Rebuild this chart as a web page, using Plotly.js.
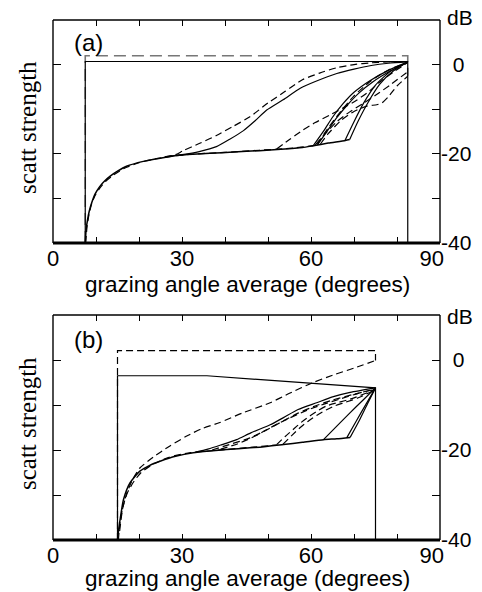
<!DOCTYPE html>
<html>
<head>
<meta charset="utf-8">
<script src="https://cdn.plot.ly/plotly-3.0.1.min.js"></script>
<style>html,body{margin:0;padding:0;background:#fff;}#chart{width:482px;height:592px;}</style>
</head>
<body>
<div id="chart"></div>
<script>
// ---------- tick labels ----------
const xTickVals = [0, 10, 20, 30, 40, 50, 60, 70, 80, 90];
const xTickText = ['0', '', '', '30', '', '', '60', '', '', '90\u2007\u2009'];
const yTickVals = [-40, -30, -20, -10, 0];
const yTickText = ['-40', '', '-20', '', '\u20070'];

// ---------- panel (a) ----------
const aFrameSolidX = [7.5, 7.5, 82.5, 82.5];
const aFrameSolidY = [-40, 0.7, 0.7, -40];
const aFrameDashX = [7.5, 7.5, 82.5, 82.5];
const aFrameDashY = [-40, 2.0, 2.0, -2.5];
const aBaseX = [7.5, 7.7, 8.0, 8.4, 9.0, 9.8, 10.9, 12.0, 13.3, 15, 17.1, 21, 24.9, 28.8, 32.5, 36.5, 42, 48, 53, 58, 60.5, 64, 68, 69];
const aBaseY = [-40, -37, -35, -33, -31, -29, -27.3, -26.1, -25, -23.9, -22.8, -21.7, -21, -20.4, -20.1, -19.9, -19.6, -19.3, -19, -18.6, -18.2, -17.6, -17, -16.8];
const aBaseDashX = [7.6, 7.9, 8.3, 8.9, 9.7, 10.8, 12.2, 14, 16.5, 20, 24, 28, 32, 40, 48, 55, 61];
const aBaseDashY = [-40, -36.5, -34, -31.5, -29.5, -27.8, -26.2, -24.8, -23.3, -22, -21.1, -20.5, -20.1, -19.7, -19.2, -18.8, -18.1];
const aS1X = [26, 30, 34, 38, 41, 44.3, 47, 49.7, 53.5, 57.5, 61, 66, 70, 74, 78, 82.5];
const aS1Y = [-20.7, -20.2, -19.5, -18.4, -16.8, -14.8, -12.6, -10.2, -7.9, -5.3, -3.8, -2, -1, -0.2, 0.3, 0.6];
const aD1X = [26, 28.5, 30.3, 34, 38, 42, 45.8, 50, 54, 58, 62, 66, 70, 74, 78, 82.5];
const aD1Y = [-20.7, -20.2, -19.3, -17.7, -15.9, -13.8, -11.7, -8.6, -6, -3.4, -1.9, -0.7, 0, 0.4, 0.6, 0.7];
const aS2aX = [60.5, 63, 65, 67.5, 70, 73.7, 78, 82.5];
const aS2aY = [-18.2, -14.8, -11.8, -8.7, -6.2, -3.6, -1.3, 0.6];
const aS2bX = [61.5, 64, 66, 68.5, 71, 74.5, 78.5, 82.5];
const aS2bY = [-18.0, -14.6, -11.9, -9.0, -6.5, -3.8, -1.4, 0.6];
const aS3aX = [67.9, 70, 72.2, 75, 78.5, 82.5];
const aS3aY = [-17.0, -12.8, -8.7, -4.6, -1.5, 0.6];
const aS3bX = [69, 71, 73.2, 76, 79.2, 82.5];
const aS3bY = [-16.8, -12.6, -8.6, -4.4, -1.4, 0.6];
const aD2X = [52, 55, 58.1, 61, 64.4, 67.5, 70.6, 73.5, 76, 79, 82.5];
const aD2Y = [-18.9, -16.8, -14.7, -13, -11.3, -9.7, -8, -6, -3.9, -1.8, 0.5];
const aD3X = [61, 63, 66, 69, 72, 75, 78.5, 82.5];
const aD3Y = [-18.0, -15.8, -12.8, -10.6, -8.8, -6.9, -4.5, -1.6];
const aD4X = [62.2, 64, 67, 70, 73, 75.3, 76.5, 78, 80, 82.5];
const aD4Y = [-17.8, -15.5, -12.5, -10.5, -9.3, -9.0, -8.6, -7.2, -4.8, -2.6];
const aD5X = [61.5, 64, 67, 70, 74, 78, 82.5];
const aD5Y = [-17.8, -14.2, -10.4, -7, -3.6, -1.2, 0.5];

// ---------- panel (b) ----------
const bFrameSolidX = [15, 15, 35.8, 75, 75];
const bFrameSolidY = [-40, -3.5, -3.5, -6.2, -40];
const bFrameDashX = [15, 15, 75, 75];
const bFrameDashY = [-40, 2.1, 2.1, -0.1];
const bBaseX = [15, 15.3, 15.6, 16.4, 17.9, 20.2, 22.5, 24.9, 28.5, 32.6, 36.5, 40.4, 45.8, 48.1, 53.6, 58, 62.9, 66, 69.1];
const bBaseY = [-40, -37.5, -35.5, -31, -27.3, -24.7, -23.4, -22.5, -21.4, -20.6, -20.2, -19.9, -19.5, -19.4, -18.8, -18.3, -17.7, -17.5, -17.2];
const bBaseDashX = [15.2, 15.6, 16.3, 17.3, 18.8, 20.5, 23, 27, 32, 40, 46, 52];
const bBaseDashY = [-40, -36, -32.5, -29.5, -27, -25, -23.3, -21.6, -20.6, -19.9, -19.4, -18.9];
const bS1X = [33, 36, 39, 42.7, 46, 50.5, 53.6, 57, 61.3, 65, 69.1, 75];
const bS1Y = [-20.5, -19.8, -18.9, -17.7, -16.2, -14.4, -12.8, -11, -9.5, -8.2, -7.2, -6.2];
const bS2X = [62.9, 66, 69, 72, 75];
const bS2Y = [-17.7, -14.7, -11.8, -9, -6.2];
const bS3aX = [68.3, 70.5, 72.8, 75];
const bS3aY = [-17.3, -13.6, -9.8, -6.2];
const bS3bX = [69.1, 71.2, 73.2, 75];
const bS3bY = [-17.2, -13.5, -9.6, -6.2];
const bDLongX = [15.5, 16.2, 17.2, 18.5, 20.2, 23.3, 27, 31.1, 34.5, 38.8, 44, 50.5, 55, 60.5, 65, 70, 75];
const bDLongY = [-38, -33, -29.5, -26.6, -24, -21.6, -19.2, -16.9, -15.3, -13.9, -11.8, -9.5, -7.4, -5, -3.4, -1.8, -0.1];
const bDA1X = [37, 41, 45.8, 50, 53.6, 57, 61.3, 65, 70, 75];
const bDA1Y = [-20, -18.8, -17.3, -15.4, -13.5, -11.8, -10.1, -8.9, -7.6, -6.5];
const bDA2X = [39, 43, 47, 51, 55, 59, 63, 67, 71, 75];
const bDA2Y = [-19.8, -18.6, -16.9, -14.8, -12.9, -11.2, -9.8, -8.6, -7.4, -6.4];
const bDB1X = [52, 54, 55.9, 57.8, 59.8, 61.7, 63.6, 66.5, 69.1, 73.3, 75];
const bDB1Y = [-18.8, -17, -15.4, -13.8, -12.4, -11.2, -10.2, -9.4, -8.7, -7.2, -6.4];
const bDB2X = [53.5, 55.5, 57.5, 59.5, 61.5, 63.5, 65.5, 68, 71, 75];
const bDB2Y = [-18.7, -16.8, -15, -13.5, -12.2, -11.1, -10.2, -9.4, -8.4, -6.6];

// ---------- styling ----------
const SOLID = 'solid';
const DASH = '7px,4px';
const GRAYDASH = '12px,6px';

function tr(x, y, dash, panel, opts) {
  opts = opts || {};
  return {
    type: 'scatter', mode: 'lines', x: x, y: y,
    xaxis: panel === 'a' ? 'x' : 'x2',
    yaxis: panel === 'a' ? 'y' : 'y2',
    hoverinfo: 'skip',
    line: {
      color: opts.color || '#000',
      width: opts.width || 1.2,
      dash: dash,
      shape: opts.linear ? 'linear' : 'spline',
      smoothing: 0.6
    }
  };
}

const traces = [
  tr(aFrameDashX, aFrameDashY, GRAYDASH, 'a', {linear: true, color: '#777', width: 1.6}),
  tr(aFrameSolidX, aFrameSolidY, SOLID, 'a', {linear: true}),
  tr(aBaseX, aBaseY, SOLID, 'a', {width: 1.5}),
  tr(aBaseDashX, aBaseDashY, DASH, 'a'),
  tr(aS1X, aS1Y, SOLID, 'a'),
  tr(aD1X, aD1Y, DASH, 'a'),
  tr(aS2aX, aS2aY, SOLID, 'a'),
  tr(aS2bX, aS2bY, SOLID, 'a'),
  tr(aS3aX, aS3aY, SOLID, 'a'),
  tr(aS3bX, aS3bY, SOLID, 'a'),
  tr(aD2X, aD2Y, DASH, 'a'),
  tr(aD3X, aD3Y, DASH, 'a'),
  tr(aD4X, aD4Y, DASH, 'a'),
  tr(aD5X, aD5Y, DASH, 'a'),

  tr(bFrameDashX, bFrameDashY, DASH, 'b', {linear: true}),
  tr(bFrameSolidX, bFrameSolidY, SOLID, 'b', {linear: true}),
  tr(bBaseX, bBaseY, SOLID, 'b', {width: 1.5}),
  tr(bBaseDashX, bBaseDashY, DASH, 'b'),
  tr(bS1X, bS1Y, SOLID, 'b'),
  tr(bS2X, bS2Y, SOLID, 'b'),
  tr(bS3aX, bS3aY, SOLID, 'b'),
  tr(bS3bX, bS3bY, SOLID, 'b'),
  tr(bDLongX, bDLongY, DASH, 'b'),
  tr(bDA1X, bDA1Y, DASH, 'b'),
  tr(bDA2X, bDA2Y, DASH, 'b'),
  tr(bDB1X, bDB1Y, DASH, 'b'),
  tr(bDB2X, bDB2Y, DASH, 'b')
];

const W = 482, H = 592;
const xDom = [53 / W, 440 / W];
const aDom = [(H - 243) / H, (H - 20) / H];
const bDom = [(H - 540) / H, (H - 315) / H];
const sans = 'Liberation Sans, Arial, Helvetica, sans-serif';
const serif = 'Liberation Serif, Times New Roman, serif';

function xAx(anchor, dom) {
  return {
    domain: dom, anchor: anchor, range: [0, 90], fixedrange: true,
    tickmode: 'array', tickvals: xTickVals, ticktext: xTickText,
    ticks: 'inside', ticklen: 6, tickwidth: 1, tickcolor: '#000', mirror: 'ticks',
    showline: false, showgrid: false, zeroline: false,
    tickfont: {family: sans, size: 22, color: '#000'}
  };
}
function yAx(anchor, dom) {
  return {
    domain: dom, anchor: anchor, side: 'right', range: [-40, 10], fixedrange: true,
    tickmode: 'array', tickvals: yTickVals, ticktext: yTickText,
    ticks: 'inside', ticklen: 8, tickwidth: 1, tickcolor: '#000', mirror: 'ticks',
    showline: false, showgrid: false, zeroline: false,
    tickfont: {family: sans, size: 21, color: '#000'}
  };
}

function frame(xr, yr) {
  const base = {type: 'line', xref: xr + ' domain', yref: yr + ' domain', layer: 'above'};
  return [
    Object.assign({}, base, {x0: 0, x1: 0, y0: 0, y1: 1, line: {color: '#000', width: 1.4}}),
    Object.assign({}, base, {x0: 0, x1: 1, y0: 1, y1: 1, line: {color: '#000', width: 1.4}}),
    Object.assign({}, base, {x0: 1, x1: 1, y0: 0, y1: 1, line: {color: '#000', width: 1.4}}),
    Object.assign({}, base, {x0: 0, x1: 1, y0: 0, y1: 0, line: {color: '#000', width: 3}})
  ];
}

function ann(text, px, py, size, family, angle) {
  return {
    text: text, xref: 'paper', yref: 'paper', x: px / W, y: (H - py) / H,
    xanchor: 'center', yanchor: 'middle', showarrow: false, textangle: angle || 0,
    font: {family: family, size: size, color: '#000'}
  };
}

const layout = {
  width: W, height: H,
  margin: {l: 0, r: 0, t: 0, b: 0},
  paper_bgcolor: '#fff', plot_bgcolor: '#fff',
  showlegend: false,
  xaxis: xAx('y', xDom),
  yaxis: yAx('x', aDom),
  xaxis2: xAx('y2', xDom),
  yaxis2: yAx('x2', bDom),
  shapes: frame('x', 'y').concat(frame('x2', 'y2')),
  annotations: [
    ann('grazing angle average (degrees)', 247.5, 284, 22.5, sans),
    ann('grazing angle average (degrees)', 247.5, 578, 22.5, sans),
    ann('scatt strength', 27, 128, 25, serif, -90),
    ann('scatt strength', 27, 424, 25, serif, -90),
    ann('(a)', 88, 43, 24, sans),
    ann('(b)', 88, 339, 24, sans),
    ann('dB', 460, 18, 21, sans),
    ann('dB', 460, 316, 21, sans)
  ]
};

Plotly.newPlot('chart', traces, layout, {staticPlot: true, displayModeBar: false});
</script>
</body>
</html>
